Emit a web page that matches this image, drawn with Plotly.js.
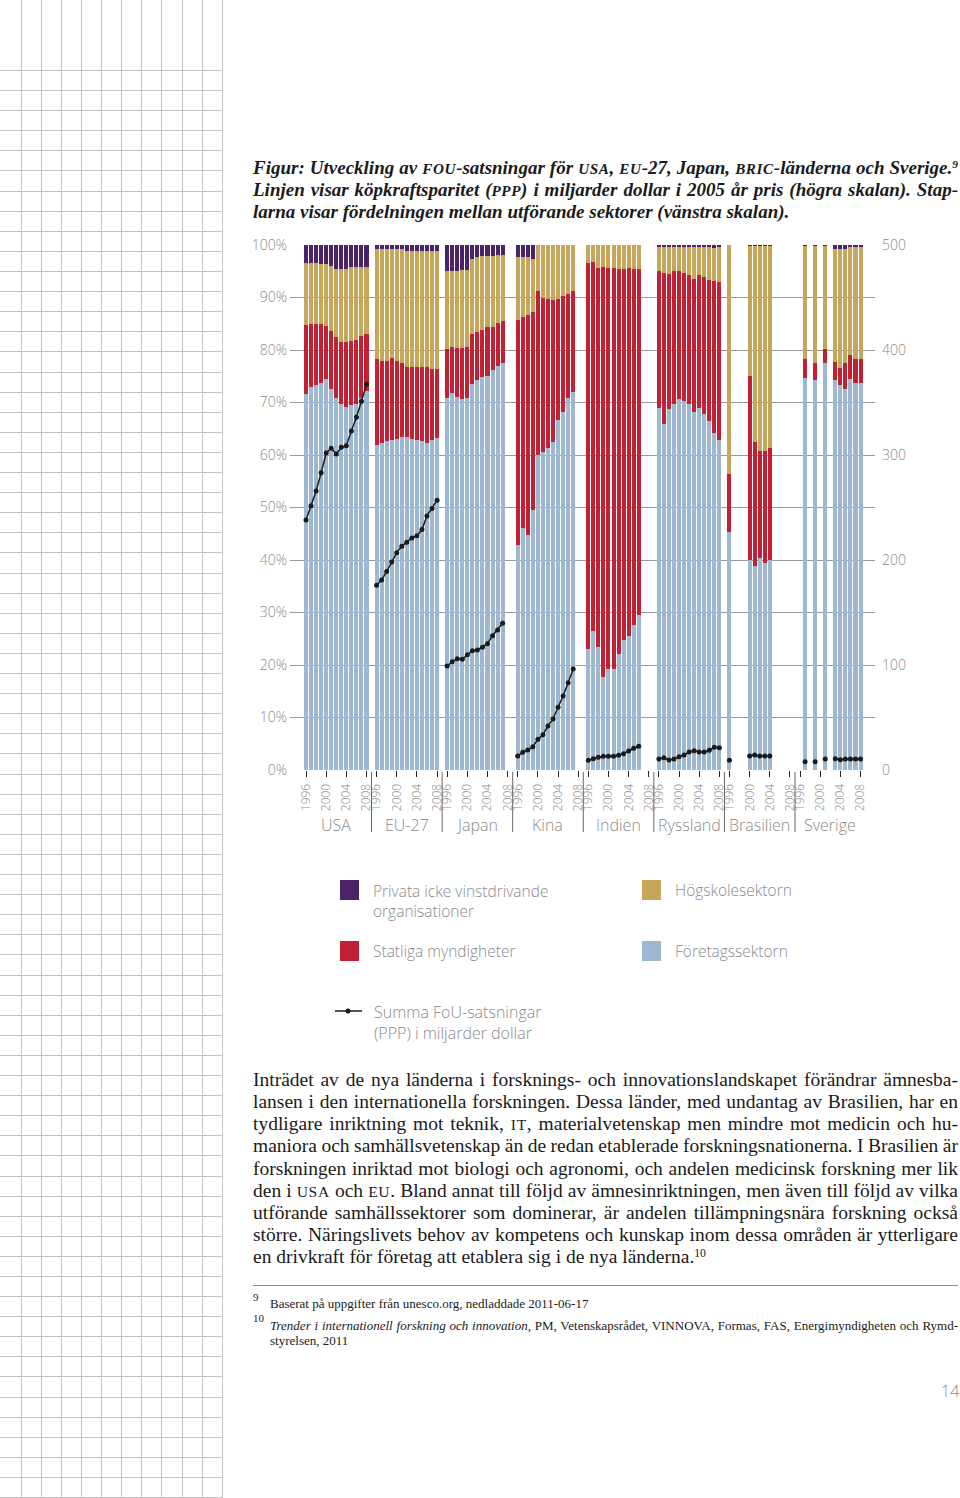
<!DOCTYPE html>
<html>
<head>
<meta charset="utf-8">
<script src="https://cdn.plot.ly/plotly-3.0.1.min.js"></script>
<style>
  html, body { margin:0; padding:0; background:#fff; }
  body { width:960px; height:1498px; position:relative; overflow:hidden; }
  #grid { position:absolute; left:0; top:0; }
  #chart { position:absolute; left:0; top:0; width:960px; height:1498px; }
  .serif { font-family: "Liberation Serif", "DejaVu Serif", serif; color:#1a1a1a; }
  .line { display:block; white-space:nowrap; }
  .sc { font-size:0.8em; letter-spacing:0.04em; }
  sup { line-height:0; vertical-align:0.55em; font-size:0.6em; }
  #title { position:absolute; left:253px; top:157px; width:705px; font-size:19px; font-style:italic; font-weight:bold; line-height:22px; }
  #title .line { height:22px; }
  #body { position:absolute; left:253px; top:1069px; width:705px; font-size:19.5px; line-height:22.15px; }
  #body .line { height:22.15px; }
  #rule { position:absolute; left:253px; top:1285px; width:705px; height:1px; background:#8a8a8a; }
  .fn { position:absolute; font-size:13px; line-height:15px; }
  .fnnum { position:absolute; font-size:11px; }
  #page { position:absolute; left:941px; top:1380px; font-family:"Open Sans", sans-serif; font-weight:300; color:#888; font-size:16px; }
</style>
</head>
<body>
<svg id="grid" width="225" height="1498"></svg>
<div id="chart"></div>

<div id="title" class="serif">
  <span class="line just">Figur: Utveckling av <span class="sc">FOU</span>-satsningar för <span class="sc">USA</span>, <span class="sc">EU</span>-27, Japan, <span class="sc">BRIC</span>-länderna och Sverige.<sup>9</sup></span>
  <span class="line just">Linjen visar köpkraftsparitet (<span class="sc">PPP</span>) i miljarder dollar i 2005 år pris (högra skalan). Stap-</span>
  <span class="line">larna visar fördelningen mellan utförande sektorer (vänstra skalan).</span>
</div>

<div id="body" class="serif">
  <span class="line just">Inträdet av de nya länderna i forsknings- och innovationslandskapet förändrar ämnesba-</span>
  <span class="line just">lansen i den internationella forskningen. Dessa länder, med undantag av Brasilien, har en</span>
  <span class="line just">tydligare inriktning mot teknik, <span class="sc">IT</span>, materialvetenskap men mindre mot medicin och hu-</span>
  <span class="line just">maniora och samhällsvetenskap än de redan etablerade forskningsnationerna. I Brasilien är</span>
  <span class="line just">forskningen inriktad mot biologi och agronomi, och andelen medicinsk forskning mer lik</span>
  <span class="line just">den i <span class="sc">USA</span> och <span class="sc">EU</span>. Bland annat till följd av ämnesinriktningen, men även till följd av vilka</span>
  <span class="line just">utförande samhällssektorer som dominerar, är andelen tillämpningsnära forskning också</span>
  <span class="line just">större. Näringslivets behov av kompetens och kunskap inom dessa områden är ytterligare</span>
  <span class="line">en drivkraft för företag att etablera sig i de nya länderna.<sup>10</sup></span>
</div>

<div id="rule"></div>
<div class="fnnum serif" style="left:253px; top:1291px;">9</div>
<div class="fn serif" style="left:270px; top:1296px;">Baserat på uppgifter från unesco.org, nedladdade 2011-06-17</div>
<div class="fnnum serif" style="left:253px; top:1312px;">10</div>
<div class="fn serif" style="left:270px; top:1318px; width:688px;">
  <span class="line just"><i>Trender i internationell forskning och innovation</i>, PM, Vetenskapsrådet, VINNOVA, Formas, FAS, Energimyndigheten och Rymd-</span>
  <span class="line">styrelsen, 2011</span>
</div>
<div id="page">14</div>

<script>
// ---------------- DATA ----------------
const years = [1996,1997,1998,1999,2000,2001,2002,2003,2004,2005,2006,2007,2008];
const countries = ['USA','EU-27','Japan','Kina','Indien','Ryssland','Brasilien','Sverige'];
const tickYears = [1996,2000,2004,2008];
const yTickLabels = ['0%','10%','20%','30%','40%','50%','60%','70%','80%','90%','100%'];
const y2TickLabels = ['0','100','200','300','400','500'];

// Share of R&D by performing sector (%), rows = countries, columns = years
const foretag = [
  [71.7,73.0,73.3,73.8,74.4,72.5,70.8,69.8,69.1,69.5,69.8,70.9,72.1],
  [62.0,62.3,62.6,62.9,63.1,63.5,63.5,63.1,62.8,62.7,62.3,62.9,63.2],
  [70.9,71.9,71.1,70.7,70.8,73.5,74.3,74.8,75.1,76.2,77.0,77.6,null],
  [42.9,46.1,44.8,49.5,60.0,60.6,61.3,62.5,66.7,68.2,70.9,72.0,null],
  [23.0,26.5,23.5,17.8,19.2,19.2,22.1,24.8,25.5,27.6,29.5,null,null],
  [69.0,66.0,68.8,69.8,70.6,70.3,69.8,68.2,69.0,67.9,66.5,64.1,62.9],
  [45.4,null,null,null,40.0,38.9,40.3,39.5,40.0,null,null,null,null],
  [null,74.7,null,74.2,null,77.5,null,74.2,73.3,72.6,74.5,73.7,73.8]
];
const statliga = [
  [13.1,12.0,11.7,11.1,10.2,11.2,11.7,11.8,12.4,12.2,12.2,11.8,11.0],
  [16.2,15.7,15.4,15.6,14.9,14.0,13.3,13.6,13.9,14.0,14.4,13.4,13.1],
  [9.3,8.7,9.2,9.7,9.8,9.5,9.2,9.1,9.2,8.2,8.1,7.9,null],
  [42.9,40.1,41.9,37.8,31.3,29.4,28.4,27.0,23.1,22.1,19.8,19.3,null],
  [73.5,70.2,72.2,78.1,76.5,76.5,73.3,70.6,70.1,67.8,65.9,null,null],
  [26.0,28.6,25.7,25.2,24.4,24.3,24.4,25.3,25.2,26.1,26.8,29.0,30.0],
  [11.0,null,null,null,35.1,23.6,20.5,21.3,21.4,null,null,null,null],
  [null,3.5,null,3.3,null,2.7,null,3.5,3.3,4.9,4.5,4.5,4.4]
];
const hogskole = [
  [11.8,11.6,11.5,11.5,11.7,12.3,13.0,13.8,13.9,14.2,13.9,13.2,12.8],
  [21.0,21.2,21.2,20.7,21.2,21.7,22.1,22.2,22.2,22.2,22.2,22.6,22.6],
  [14.9,14.5,14.8,14.8,14.7,14.4,14.2,14.0,13.7,13.6,13.0,12.6,null],
  [12.0,11.6,11.0,10.0,8.7,10.0,10.3,10.5,10.2,9.7,9.3,8.7,null],
  [3.5,3.3,4.3,4.1,4.3,4.3,4.6,4.6,4.4,4.6,4.6,null,null],
  [4.7,5.1,5.2,4.7,4.7,5.1,5.5,6.2,5.5,5.7,6.4,6.3,6.7],
  [43.6,null,null,null,24.7,37.3,39.0,39.0,38.4,null,null,null,null],
  [null,21.6,null,22.3,null,19.6,null,21.6,22.7,21.8,20.6,21.4,21.4]
];
const privata = [
  [3.4,3.4,3.5,3.6,3.7,4.0,4.5,4.6,4.6,4.1,4.1,4.1,4.1],
  [0.8,0.8,0.8,0.8,0.8,0.8,1.1,1.1,1.1,1.1,1.1,1.1,1.1],
  [4.9,4.9,4.9,4.8,4.7,2.6,2.3,2.1,2.0,2.0,1.9,1.9,null],
  [2.2,2.2,2.3,2.7,0,0,0,0,0,0,0,0,null],
  [0,0,0,0,0,0,0,0,0,0,0,null,null],
  [0.3,0.3,0.3,0.3,0.3,0.3,0.3,0.3,0.3,0.3,0.3,0.6,0.4],
  [0,null,null,null,0.2,0.2,0.2,0.2,0.2,null,null,null,null],
  [null,0.2,null,0.2,null,0.2,null,0.7,0.7,0.7,0.4,0.4,0.4]
];
// Total R&D, PPP billion USD (2005 prices)
const summa = [
  [238,251.7,265.7,283,301.9,306.4,301,307.3,308.9,322.9,335.9,351.1,367.3],
  [176,181,189,198,207,213,217,221,223,229,242,249,257],
  [99,103.1,106,105.4,109.8,113.6,114.3,116.9,120.3,127.9,133.3,139.7,null],
  [13.3,16.9,19,22.2,29.2,33.6,41.9,48.6,59.7,70.5,83.1,96.2,null],
  [9.2,10.8,12.1,13,13,13,14,15.5,18.1,20.7,22.6,null,null],
  [10.5,11.7,9.5,10.5,12.7,14.3,17.1,18.4,17.1,17.1,18.8,21.6,21.3],
  [9.2,null,null,null,13.3,14.3,13.3,13.3,13.3,null,null,null,null],
  [null,7.9,null,7.9,null,10.5,null,10.8,9.8,10.5,10.5,10.5,10.5]
];
const sectorNames = ['Företagssektorn','Statliga myndigheter','Högskolesektorn','Privata icke vinstdrivande organisationer'];
const lineName = 'Summa FoU-satsningar (PPP) i miljarder dollar';

// ---------------- TEXT JUSTIFICATION (no wrapping) ----------------
document.querySelectorAll('.just').forEach(el => {
  const target = el.parentElement.clientWidth;
  const r = document.createRange();
  r.selectNodeContents(el);
  const w = r.getBoundingClientRect().width;
  const n = (el.textContent.trim().match(/ +/g) || []).length;
  if (n > 0) el.style.wordSpacing = ((target - w) / n) + 'px';
});

// ---------------- STYLE ----------------
const colors = ['#9DB8D0','#C22034','#C6A65B','#4B2367'];
const GROUP = 14;
const pos = (g, i) => g * GROUP + i;
const fontFam = '"Open Sans", Lato, sans-serif';
const gray = '#8a8a8a';

// left page grid
(function(){
  const svg = document.getElementById('grid');
  let s = '';
  for (let k = 0; k <= 10; k++) {
    const x = Math.round(20.7 + 20.1*k) + 0.5;
    s += `<line x1="${x}" y1="0" x2="${x}" y2="1498" stroke="#c4c4c4" stroke-width="1"/>`;
  }
  for (let y = 70; y < 1498; y += 20.1) {
    const yy = Math.round(y) + 0.5;
    s += `<line x1="0" y1="${yy}" x2="222" y2="${yy}" stroke="#c4c4c4" stroke-width="1"/>`;
  }
  svg.innerHTML = s;
})();

// ---------------- TRACES ----------------
const sectors = [foretag, statliga, hogskole, privata];
const traces = [];
sectors.forEach((arr, s) => {
  const xs = [], ys = [];
  countries.forEach((c, g) => {
    years.forEach((yr, i) => {
      if (arr[g][i] !== null) { xs.push(pos(g, i)); ys.push(arr[g][i]); }
    });
  });
  traces.push({
    type:'bar', x:xs, y:ys, width:0.8, name:sectorNames[s],
    marker:{color:colors[s], line:{width:0}}, hoverinfo:'skip'
  });
});
countries.forEach((c, g) => {
  traces.push({
    type:'scatter', mode:'lines+markers', yaxis:'y2',
    x: years.map((yr, i) => pos(g, i)), y: summa[g],
    connectgaps:false, name:lineName,
    line:{color:'#1b1b1b', width:1.5}, marker:{color:'#1b1b1b', size:5},
    hoverinfo:'skip', showlegend:false
  });
});
// tick end dots
const tickX = [];
countries.forEach((c, g) => tickYears.forEach(ty => tickX.push(pos(g, years.indexOf(ty)))));
traces.push({
  type:'scatter', mode:'markers', x:tickX, y:tickX.map(() => -1.35),
  marker:{color:'#222', size:3.5}, cliponaxis:false, hoverinfo:'skip', showlegend:false
});

// ---------------- LAYOUT ----------------
const L = 290, R = 875, T = 245, B = 770;
const P = x => (x - L) / (R - L);
const Q = y => (B - y) / (B - T);

const shapes = [];
const annotations = [];
for (let g = 1; g < countries.length; g++) {
  shapes.push({type:'line', xref:'x', yref:'paper', x0:pos(g,-1), x1:pos(g,-1), y0:Q(772), y1:Q(832),
    line:{color:'#666', width:1}});
}
countries.forEach((c, g) => {
  annotations.push({text:c, xref:'x', yref:'paper', x:pos(g,6), y:Q(825), showarrow:false,
    xanchor:'center', yanchor:'middle', font:{family:fontFam, size:16, color:gray, weight:300}});
});
// legend
const legendItems = [
  {c:3, x:340, y:890, text:'Privata icke vinstdrivande<br>organisationer', twoLine:true},
  {c:2, x:642, y:890, text:'Högskolesektorn'},
  {c:1, x:340, y:951, text:'Statliga myndigheter'},
  {c:0, x:642, y:951, text:'Företagssektorn'}
];
legendItems.forEach(it => {
  shapes.push({type:'rect', xref:'paper', yref:'paper', x0:P(it.x), x1:P(it.x+19), y0:Q(it.y-10), y1:Q(it.y+10),
    fillcolor:colors[it.c], line:{width:0}});
  annotations.push({text:it.text, xref:'paper', yref:'paper', x:P(it.x+31), y:Q(it.twoLine ? it.y - 12 : it.y),
    xanchor:'left', yanchor: it.twoLine ? 'top' : 'middle', align:'left', showarrow:false,
    font:{family:fontFam, size:15.5, color:gray, weight:300}});
});
shapes.push({type:'line', xref:'paper', yref:'paper', x0:P(335), x1:P(362), y0:Q(1011), y1:Q(1011),
  line:{color:'#1b1b1b', width:1.5}});
shapes.push({type:'circle', xref:'paper', yref:'paper', x0:P(345.5), x1:P(350.5), y0:Q(1008.5), y1:Q(1013.5),
  fillcolor:'#1b1b1b', line:{width:0}});
annotations.push({text:'Summa FoU-satsningar<br>(PPP) i miljarder dollar', xref:'paper', yref:'paper',
  x:P(372), y:Q(999), xanchor:'left', yanchor:'top', align:'left', showarrow:false,
  font:{family:fontFam, size:16, color:gray, weight:300}});

const tickVals = [];
const tickText = [];
countries.forEach((c, g) => tickYears.forEach(ty => { tickVals.push(pos(g, years.indexOf(ty))); tickText.push(String(ty)); }));

const layout = {
  width:960, height:1498,
  margin:{l:L, r:960-R, t:T, b:1498-B, pad:0},
  paper_bgcolor:'rgba(0,0,0,0)', plot_bgcolor:'rgba(0,0,0,0)',
  showlegend:false, barmode:'stack',
  xaxis:{range:[-3.174, 112.87], tickvals:tickVals, ticktext:tickText, tickangle:-90,
    ticks:'outside', ticklen:6, tickwidth:1, tickcolor:'#222', showgrid:false, zeroline:false, showline:false,
    tickfont:{family:fontFam, size:12, color:gray, weight:300}, ticklabelstandoff:2, fixedrange:true},
  yaxis:{range:[0,100], tickvals:[0,10,20,30,40,50,60,70,80,90,100], ticktext:yTickLabels,
    showgrid:true, gridcolor:'#9a9a9a', gridwidth:1, zeroline:false, showline:false, ticks:'',
    tickfont:{family:fontFam, size:14, color:gray, weight:300}, ticklabelstandoff:2, fixedrange:true},
  yaxis2:{range:[0,500], overlaying:'y', side:'right', tickvals:[0,100,200,300,400,500], ticktext:y2TickLabels,
    showgrid:false, zeroline:false, showline:false, ticks:'',
    tickfont:{family:fontFam, size:14, color:gray, weight:300}, ticklabelstandoff:6, fixedrange:true},
  shapes:shapes, annotations:annotations
};

Plotly.newPlot('chart', traces, layout, {staticPlot:true, displayModeBar:false});
</script>
</body>
</html>
